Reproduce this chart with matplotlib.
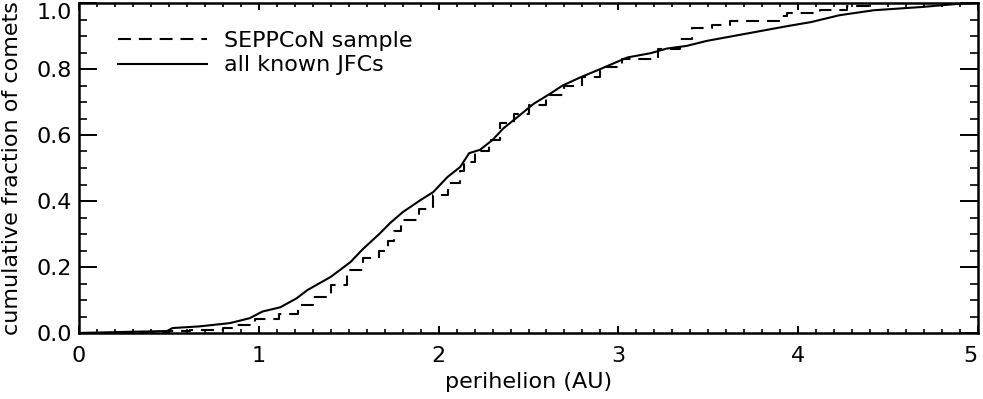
import matplotlib
matplotlib.use("Agg")
import matplotlib.pyplot as plt
from matplotlib.ticker import MultipleLocator

# ---- data ----
# all known JFCs: cumulative fraction vs perihelion (AU)
jfc_q = [0.00, 0.23, 0.49, 0.52, 0.67, 0.84, 0.95, 1.02, 1.12, 1.21, 1.27, 1.40,
         1.51, 1.58, 1.67, 1.73, 1.80, 1.90, 1.97, 2.05, 2.12, 2.17, 2.23, 2.30,
         2.36, 2.44, 2.53, 2.62, 2.69, 2.79, 2.90, 3.05, 3.18, 3.27, 3.38, 3.49,
         3.64, 3.79, 3.94, 4.07, 4.23, 4.42, 4.69, 4.88, 5.00]
jfc_f = [0.0, 0.003, 0.006, 0.015, 0.02, 0.03, 0.045, 0.065, 0.078, 0.105, 0.13, 0.17,
         0.215, 0.255, 0.30, 0.333, 0.366, 0.403, 0.427, 0.473, 0.503, 0.545, 0.555, 0.585,
         0.62, 0.655, 0.695, 0.725, 0.75, 0.775, 0.80, 0.835, 0.848, 0.862, 0.87, 0.885,
         0.90, 0.915, 0.93, 0.942, 0.963, 0.978, 0.988, 0.997, 1.0]

# SEPPCoN sample: step cumulative distribution
sep_q = [0.00, 0.50, 0.62, 0.80, 0.88, 0.98, 1.11, 1.22, 1.30, 1.40, 1.49, 1.58,
         1.67, 1.72, 1.75, 1.79, 1.89, 1.97, 2.05, 2.12, 2.14, 2.20, 2.28, 2.34,
         2.42, 2.50, 2.60, 2.70, 2.80, 2.90, 3.02, 3.22, 3.34, 3.41, 3.52, 3.62,
         3.90, 3.94, 4.12, 4.27, 4.40, 5.00]
sep_f = [0.000, 0.005, 0.010, 0.016, 0.024, 0.042, 0.058, 0.085, 0.108, 0.145, 0.19, 0.227,
         0.25, 0.28, 0.31, 0.342, 0.375, 0.418, 0.455, 0.49, 0.518, 0.55, 0.585, 0.635,
         0.665, 0.69, 0.72, 0.75, 0.775, 0.805, 0.83, 0.86, 0.89, 0.924, 0.933, 0.945,
         0.96, 0.97, 0.978, 0.99, 1.0, 1.0]

x_ticks = [0, 1, 2, 3, 4, 5]
y_ticks = [0.0, 0.2, 0.4, 0.6, 0.8, 1.0]
y_ticklabels = ["0.0", "0.2", "0.4", "0.6", "0.8", "1.0"]

plt.rcParams['font.family'] = ['DejaVu Sans']
FS = 16

fig = plt.figure(figsize=(9.83, 3.99), dpi=100)
ax = fig.add_axes([79/983, 1-333/399, (978-79)/983, (333-3)/399])

ax.plot(sep_q, sep_f, color='black', lw=1.5, drawstyle='steps-post',
        linestyle=(0, (6.2, 3.8)), label='SEPPCoN sample')
ax.plot(jfc_q, jfc_f, color='black', lw=1.5, label='all known JFCs')

ax.set_xlim(0, 5)
ax.set_ylim(0, 1.0)
ax.set_xticks(x_ticks)
ax.set_yticks(y_ticks, y_ticklabels)
ax.xaxis.set_minor_locator(MultipleLocator(0.1))
ax.yaxis.set_minor_locator(MultipleLocator(0.05))

for s in ax.spines.values():
    s.set_linewidth(1.8)

ax.tick_params(axis='x', which='major', direction='in', top=True, bottom=True,
               length=5, width=1.4, labelsize=FS, pad=9)
ax.tick_params(axis='x', which='minor', direction='in', top=True, bottom=True,
               length=2.6, width=1.2)
ax.tick_params(axis='y', which='major', direction='in', left=True, right=True,
               length=13, width=1.4, labelsize=FS, pad=5)
ax.tick_params(axis='y', which='minor', direction='in', left=True, right=True,
               length=6, width=1.2)

ax.set_xlabel('perihelion (AU)', fontsize=FS)
ax.xaxis.set_label_coords(0.5, -0.118)
ax.xaxis.label.set_verticalalignment('top')
ax.set_ylabel('cumulative fraction of comets', fontsize=FS)
ax.yaxis.set_label_coords(-0.063, 0.5)

leg = ax.legend(loc='upper left', bbox_to_anchor=((118-79)/899, (333-31)/330),
                frameon=False, fontsize=FS, handlelength=4.0, handletextpad=0.75,
                borderpad=0, borderaxespad=0, labelspacing=0.2)

fig.canvas.draw()
ax.yaxis.get_major_ticks()[-1].label1.set_verticalalignment('top')
ax.xaxis.get_major_ticks()[-1].label1.set_horizontalalignment('right')

fig.savefig('out.png', dpi=100)
